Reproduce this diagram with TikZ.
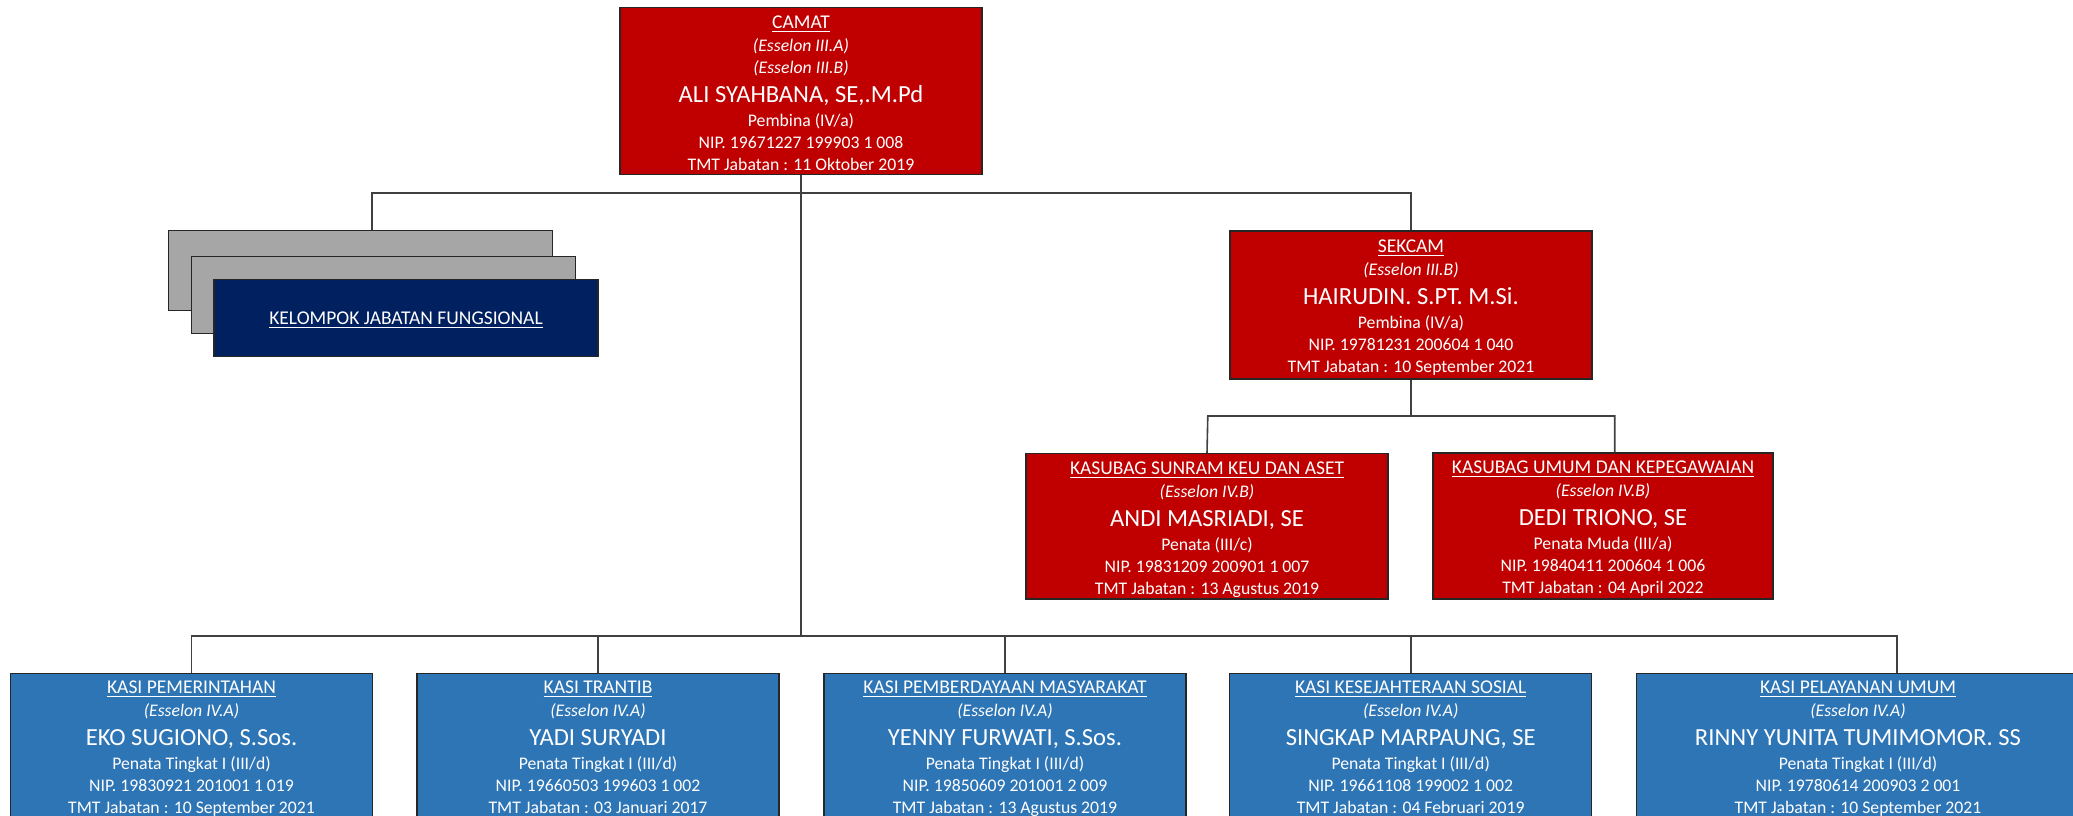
\documentclass[tikz,border=0pt]{standalone}
\usepackage{fontspec}
\setmainfont{Carlito}
\usepackage{tikz}

\definecolor{jred}{HTML}{C00000}
\definecolor{jblue}{HTML}{2E75B6}
\definecolor{jnavy}{HTML}{002060}
\definecolor{jgray}{HTML}{A6A6A6}

\newcommand{\jtitle}[1]{{\fontsize{9.75}{11}\selectfont\underline{#1}}}
\newcommand{\jess}[1]{{\itshape #1}}
\newcommand{\jname}[1]{{\fontsize{12.3}{11}\selectfont #1}}

\tikzset{
	box/.style={rectangle, draw=black!85, line width=0.7pt, inner sep=0pt, minimum width=181pt},
	redbox/.style={box, fill=jred, minimum height=74pt},
	bluebox/.style={box, fill=jblue, minimum height=74pt},
	graybox/.style={box, fill=jgray, minimum width=192pt, minimum height=39pt},
	lbl/.style={anchor=north, inner sep=0pt, align=center, text=white,
		font=\fontsize{8.85}{11}\selectfont},
	link/.style={draw=black!75, line width=0.8pt}
}

\begin{document}
\lineskiplimit=-100pt
\begin{tikzpicture}[x=0.5pt, y=-0.5pt]
	\clip (0,0) rectangle (2073,815);

	% boxes
	\node[redbox, minimum height=83.7pt] (camat) at (801,91)     {};
	\node[graybox, minimum height=40pt]  (fg1)   at (360.5,270.7) {};
	\node[graybox, minimum height=38.3pt] (fg2)  at (383.5,295)   {};
	\node[graybox, fill=jnavy, minimum height=38.5pt, text=white, text depth=0pt,
		font=\fontsize{9.75}{11}\selectfont] (fgn) at (406,318) {\underline{KELOMPOK JABATAN FUNGSIONAL}};
	\node[redbox]                        (sekcam) at (1411,305)  {};
	\node[redbox, minimum height=72.7pt] (keu)    at (1207,526.4) {};
	\node[redbox, minimum height=73pt, minimum width=170pt] (umum) at (1603,526) {};
	\node[bluebox] (pem)       at (191.5,747.3)  {};
	\node[bluebox] (trantib)   at (598,747.3)    {};
	\node[bluebox] (pmd)       at (1005,747.3)   {};
	\node[bluebox] (kesos)     at (1410.7,747.3) {};
	\node[bluebox, minimum width=220.5pt] (pelayanan) at (1857,747.3) {};

	% texts
	\node[lbl] (camat-t) at (801,15.4) {\jtitle{CAMAT}\\[0.5pt] \jess{(Esselon III.A)}\\ \jess{(Esselon III.B)}\\[3.6pt]
		\jname{ALI SYAHBANA, SE,.M.Pd}\\[1pt] Pembina (IV/a)\\ NIP. 19671227 199903 1 008\\ TMT Jabatan : 11 Oktober 2019};
	\node[lbl] (sekcam-t) at (1411,239.4) {\jtitle{SEKCAM}\\[0.5pt] \jess{(Esselon III.B)}\\[3.6pt]
		\jname{HAIRUDIN. S.PT. M.Si.}\\[1pt] Pembina (IV/a)\\ NIP. 19781231 200604 1 040\\ TMT Jabatan : 10 September 2021};
	\node[lbl] (keu-t) at (1207,461) {\jtitle{KASUBAG SUNRAM KEU DAN ASET}\\[0.5pt] \jess{(Esselon IV.B)}\\[3.6pt]
		\jname{ANDI MASRIADI, SE}\\[1pt] Penata (III/c)\\ NIP. 19831209 200901 1 007\\ TMT Jabatan : 13 Agustus 2019};
	\node[lbl] (umum-t) at (1603,460.5) {\jtitle{KASUBAG UMUM DAN KEPEGAWAIAN}\\[0.5pt] \jess{(Esselon IV.B)}\\[3.6pt]
		\jname{DEDI TRIONO, SE}\\[1pt] Penata Muda (III/a)\\ NIP. 19840411 200604 1 006\\ TMT Jabatan : 04 April 2022};
	\node[lbl] (pem-t) at (191.5,680.4) {\jtitle{KASI PEMERINTAHAN}\\[0.5pt] \jess{(Esselon IV.A)}\\[3.6pt]
		\jname{EKO SUGIONO, S.Sos.}\\[1pt] Penata Tingkat I (III/d)\\ NIP. 19830921 201001 1 019\\ TMT Jabatan : 10 September 2021};
	\node[lbl] (trantib-t) at (598,680.4) {\jtitle{KASI TRANTIB}\\[0.5pt] \jess{(Esselon IV.A)}\\[3.6pt]
		\jname{YADI SURYADI}\\[1pt] Penata Tingkat I (III/d)\\ NIP. 19660503 199603 1 002\\ TMT Jabatan : 03 Januari 2017};
	\node[lbl] (pmd-t) at (1005,680.4) {\jtitle{KASI PEMBERDAYAAN MASYARAKAT}\\[0.5pt] \jess{(Esselon IV.A)}\\[3.6pt]
		\jname{YENNY FURWATI, S.Sos.}\\[1pt] Penata Tingkat I (III/d)\\ NIP. 19850609 201001 2 009\\ TMT Jabatan : 13 Agustus 2019};
	\node[lbl] (kesos-t) at (1410.7,680.4) {\jtitle{KASI KESEJAHTERAAN SOSIAL}\\[0.5pt] \jess{(Esselon IV.A)}\\[3.6pt]
		\jname{SINGKAP MARPAUNG, SE}\\[1pt] Penata Tingkat I (III/d)\\ NIP. 19661108 199002 1 002\\ TMT Jabatan : 04 Februari 2019};
	\node[lbl] (pelayanan-t) at (1858,680.4) {\jtitle{KASI PELAYANAN UMUM}\\[0.5pt] \jess{(Esselon IV.A)}\\[3.6pt]
		\jname{RINNY YUNITA TUMIMOMOR. SS}\\[1pt] Penata Tingkat I (III/d)\\ NIP. 19780614 200903 2 001\\ TMT Jabatan : 10 September 2021};

	% junctions
	\coordinate (hl) at (372,193);
	\coordinate (hr) at (1411,193);
	\coordinate (kl) at (1207.8,416);
	\coordinate (kr) at (1614.7,416);
	\coordinate (bl) at (191.5,636);
	\coordinate (br) at (1896.7,636);

	% connectors
	\path[link] (fg1.north -| hl) -- (hl) -- (hr) -- (sekcam.north);
	\path[link] (camat.south) -- (camat.south |- bl);
	\path[link] (sekcam.south) -- (sekcam.south |- kl);
	\path[link] (keu.north) -- (kl) -- (kr) -- (umum.north -| kr);
	\path[link] (pem.north) -- (bl) -- (br) -- (pelayanan.north -| br);
	\path[link] (trantib.north) -- (trantib.north |- bl);
	\path[link] (pmd.north) -- (pmd.north |- bl);
	\path[link] (kesos.north) -- (kesos.north |- bl);
\end{tikzpicture}
\end{document}
